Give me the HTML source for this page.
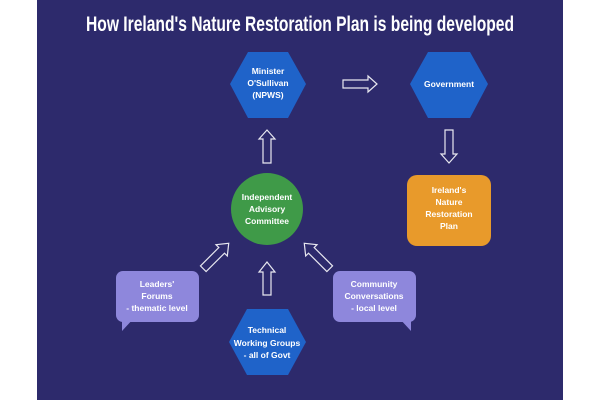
<!DOCTYPE html>
<html><head><meta charset="utf-8"><style>
html,body{margin:0;padding:0;background:#fff;width:600px;height:400px;overflow:hidden}
svg text{font-family:"Liberation Sans Narrow","Liberation Sans",sans-serif;fill:#fff;font-weight:bold;text-anchor:middle}
</style></head><body>
<svg width="600" height="400" viewBox="0 0 600 400" xmlns="http://www.w3.org/2000/svg">
<rect x="0" y="0" width="600" height="400" fill="#fff"/>
<rect x="37" y="0" width="526" height="400" fill="#2d2a6c"/>
<text x="300" y="31" font-size="21" textLength="428" lengthAdjust="spacingAndGlyphs">How Ireland's Nature Restoration Plan is being developed</text>

<polygon points="230,84 248,52 288,52 306,84 288,118 248,118" fill="#1f63c9"/>
<polygon points="410,84 428,52 470,52 488,84 470,118 428,118" fill="#1f63c9"/>
<polygon points="229,342 247,309 288,309 306,342 288,375 247,375" fill="#1f63c9"/>

<circle cx="267" cy="209" r="36" fill="#3f9a48"/>

<rect x="407" y="175" width="84" height="71" rx="10" fill="#e89a2b"/>

<rect x="116" y="271" width="83" height="51" rx="7" fill="#8e87dc"/>
<polygon points="122,318 134,318 122,331" fill="#8e87dc"/>
<rect x="333" y="271" width="83" height="51" rx="7" fill="#8e87dc"/>
<polygon points="399,318 411,318 411,331" fill="#8e87dc"/>

<g fill="none" stroke="#e8e8f0" stroke-width="1.2">
<polygon points="343,80 368,80 368,76 377,84 368,92 368,88 343,88"/>
<polygon points="263,163 263,139 259,139 267,130 275,139 271,139 271,163"/>
<polygon points="445,130 453,130 453,154 457,154 449,163 441,154 445,154"/>
<polygon points="263,295 263,272 259,272 267,262 275,272 271,272 271,295"/>
<g transform="translate(216,256) rotate(45)"><polygon points="-4,18 -4,-8 -8,-8 0,-18 8,-8 4,-8 4,18"/></g>
<g transform="translate(317,256) rotate(-45)"><polygon points="-4,18 -4,-8 -8,-8 0,-18 8,-8 4,-8 4,18"/></g>
</g>

<g font-size="8.5">
<text x="268" y="74">Minister</text>
<text x="268" y="86">O'Sullivan</text>
<text x="268" y="98">(NPWS)</text>
<text x="449" y="87">Government</text>
<text x="267" y="200">Independent</text>
<text x="267" y="212">Advisory</text>
<text x="267" y="224">Committee</text>
<text x="449" y="193">Ireland's</text>
<text x="449" y="205">Nature</text>
<text x="449" y="217">Restoration</text>
<text x="449" y="229">Plan</text>
<text x="157" y="287">Leaders'</text>
<text x="157" y="299">Forums</text>
<text x="157" y="311">- thematic level</text>
<text x="374" y="287">Community</text>
<text x="374" y="299">Conversations</text>
<text x="374" y="311">- local level</text>
<text x="267" y="333">Technical</text>
<text x="267" y="346">Working Groups</text>
<text x="267" y="358">- all of Govt</text>
</g>
</svg>
</body></html>
